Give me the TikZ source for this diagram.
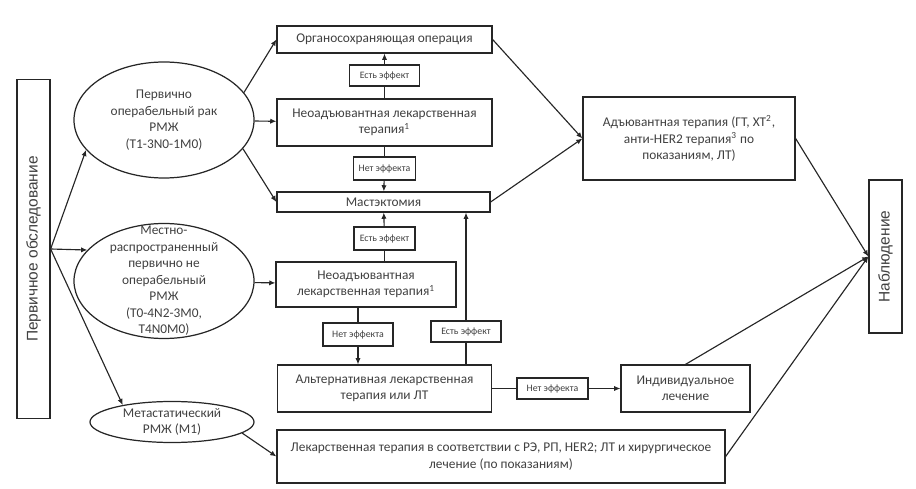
\documentclass[tikz,border=0pt]{standalone}
\usepackage{fontspec}
\setmainfont{Carlito}
\newfontfamily\arialfont{Liberation Sans}
\usetikzlibrary{shapes.geometric,arrows.meta}

\begin{document}
\begin{tikzpicture}[x=0.02cm,y=-0.02cm,
	box/.style={draw=\clrline,line width=0.7pt,fill=white,inner sep=1pt,align=center,
		text=\clrtext,font=\fontsize{7.6}{9.4}\selectfont},
	effbox/.style={box,font=\fontsize{5.6}{6.5}\selectfont},
	sidebox/.style={box,font=\arialfont\fontsize{8.8}{10}\selectfont},
	oval/.style={draw=\clrline,line width=0.7pt,ellipse,inner sep=0pt},
	ovaltext/.style={align=center,text=\clrtext,font=\fontsize{7.6}{9.4}\selectfont},
	link/.style={draw=\clrline,line width=0.65pt},
	arr/.style={link,-{Latex[length=3.5pt,width=3pt]}}]

\def\px{0.02cm}
\def\colX{384.5}
\def\clrline{black!85}
\def\clrtext{black!75}

\useasboundingbox (0,0) rectangle (916,489);

% side columns
\node[sidebox,minimum width=33*\px,minimum height=339*\px] (exam) at (33.5,249)
	{\rotatebox{90}{Первичное обследование}};
\node[sidebox,minimum width=33*\px,minimum height=153*\px] (obs) at (885.5,256.5)
	{\rotatebox{90}{Наблюдение}};

% groups of patients
\node[oval,minimum width=180*\px,minimum height=116*\px,
	label={[ovaltext]center:Первично\\операбельный рак\\РМЖ\\(T1-3N0-1M0)}] (oper) at (164,120) {};
\node[oval,minimum width=180*\px,minimum height=115*\px,
	label={[ovaltext]center:Местно-\\распространенный\\первично не\\операбельный\\РМЖ\\(T0-4N2-3M0,\\T4N0M0)}] (locadv) at (164,281) {};
\node[oval,minimum width=164*\px,minimum height=41*\px,
	label={[ovaltext]center:Метастатический\\РМЖ (M1)}] (meta) at (172,422) {};

% middle column
\node[box,minimum width=215*\px,minimum height=27*\px] (organ) at (\colX,39.5) {Органосохраняющая операция};
\node[effbox,minimum width=70*\px,minimum height=21*\px] (eff1) at (\colX,75.5) {Есть эффект};
\node[box,minimum width=215*\px,minimum height=47*\px] (neo1) at (\colX,122.5)
	{Неоадъювантная лекарственная\\терапия\textsuperscript{1}};
\node[effbox,minimum width=62*\px,minimum height=23*\px] (noeff1) at (\colX,168.5) {Нет эффекта};
\node[box,minimum width=213*\px,minimum height=20*\px] (mast) at (383.5,202) {Мастэктомия};
\node[effbox,minimum width=61*\px,minimum height=23*\px] (eff2) at (\colX,238.5) {Есть эффект};
\node[box,minimum width=180*\px,minimum height=45*\px] (neo2) at (366,284.5)
	{Неоадъювантная\\лекарственная терапия\textsuperscript{1}};
\node[effbox,minimum width=70*\px,minimum height=23*\px] (noeff2) at (358,334.5) {Нет эффекта};
\node[effbox,minimum width=70*\px,minimum height=21*\px] (eff3) at (466,331.5) {Есть эффект};
\node[box,minimum width=214*\px,minimum height=47*\px] (alt) at (\colX,388.5)
	{Альтернативная лекарственная\\терапия или ЛТ};
\node[effbox,minimum width=71*\px,minimum height=21*\px] (noeff3) at (552.5,388.5) {Нет эффекта};
\node[box,minimum width=129*\px,minimum height=47*\px] (indiv) at (685.5,388.5)
	{Индивидуальное\\лечение};
\node[box,minimum width=448*\px,minimum height=53*\px] (drug) at (501,456.5)
	{Лекарственная терапия в соответствии с РЭ, РП, HER2; ЛТ и хирургическое\\лечение (по показаниям)};
\node[box,minimum width=212*\px,minimum height=83*\px] (adj) at (689,138.5)
	{Адъювантная терапия (ГТ, ХТ\textsuperscript{2},\\анти-HER2 терапия\textsuperscript{3} по\\показаниям, ЛТ)};

% from examination
\draw[arr] (exam.east) -- (oper.201);
\draw[arr] (exam.east) -- (locadv.158);
\draw[arr] (exam.east) -- (meta.161);

% operable
\draw[arr] (oper.19) -- (organ.west);
\draw[arr] (oper) -- (neo1);
\draw[arr] (oper.-20) -- (mast.west);
\draw[link] (neo1) -- (eff1);
\draw[arr] (eff1) -- (organ);
\draw[link] (neo1) -- (noeff1);
\draw[arr] (noeff1) -- (mast);

% locally advanced
\draw[arr] (locadv) -- (neo2);
\draw[link] (eff2 |- neo2.north) -- (eff2);
\draw[arr] (eff2) -- (mast);
\draw[link] (noeff2 |- neo2.south) -- (noeff2);
\draw[arr] (noeff2) -- (noeff2 |- alt.north);
\draw[link] (eff3 |- alt.north) -- (eff3);
\draw[arr] (eff3) -- (eff3 |- mast.south);
\draw[link] (alt) -- (noeff3);
\draw[arr] (noeff3) -- (indiv);

% metastatic
\draw[arr] (meta.-9) -- (drug.west);

% to adjuvant and observation
\draw[arr] (organ.east) -- (adj.west);
\draw[arr] (mast.east) -- (adj.west);
\draw[arr] (adj.east) -- (obs.west);
\draw[arr] (indiv.north) -- (obs.west);
\draw[arr] (drug.east) -- (obs.west);

\end{tikzpicture}
\end{document}
